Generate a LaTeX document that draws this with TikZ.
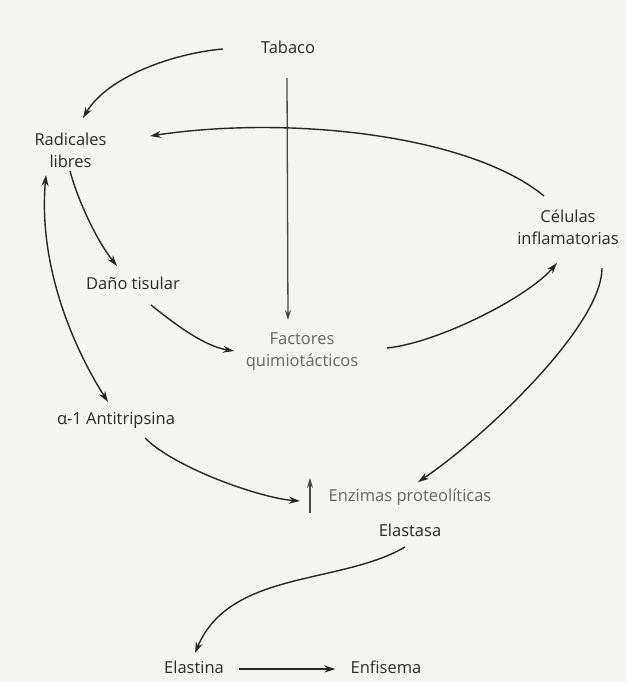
\documentclass[tikz,border=0pt]{standalone}
\usepackage{fontspec}
\setmainfont{Open Sans}
\usetikzlibrary{arrows.meta,calc}
\definecolor{paper}{HTML}{F4F4F1}
\definecolor{ink}{HTML}{2A2A2A}
\definecolor{lightink}{HTML}{666666}
\definecolor{lineink}{HTML}{262626}
\tikzset{
  lbl/.style={inner sep=0pt, text=ink, font=\fontsize{16.5}{22}\selectfont, align=center},
  lbllight/.style={lbl, text=lightink},
  conn/.style={draw=lineink, line width=1.4pt, -{Stealth[length=11pt,width=7pt]}},
  bconn/.style={draw=lineink, line width=1.4pt, {Stealth[length=11pt,width=7pt]}-{Stealth[length=11pt,width=7pt]}},
  vconn/.style={draw=lineink!85, line width=1.3pt, -{Stealth[length=10pt,width=6pt]}}
}
\begin{document}
\begin{tikzpicture}[x=1pt,y=-1pt]
\fill[paper] (0,0) rectangle (626,682);
\useasboundingbox (0,0) rectangle (626,682);

\node[lbl] (tab) at (288,47) {Tabaco};
\node[lbl] (rad) at (70.5,150) {Radicales\\libres};
\node[lbl] (dano) at (133,283) {Daño tisular};
\node[lbllight] (fact) at (302,352) {Factores\\quimiotácticos};
\node[lbl] (cel) at (568,227) {Células\\inflamatorias};
\node[lbl] (alfa) at (116,420) {α-1 Antitripsina};
\node[lbllight] (enz) at (410,497) {Enzimas proteolíticas};
\node[lbl] (ela) at (410,530) {Elastasa};
\node[lbl] (elna) at (194,667) {Elastina};
\node[lbl] (enf) at (386,667) {Enfisema};

% Tabaco -> Radicales libres
\draw[conn] ($(tab)+(-65,2)$) .. controls +(-48,4) and +(25,-42) .. ($(rad)+(12.5,-32)$);
% Tabaco -> Factores
\draw[vconn] ($(tab)+(-1,31)$) -- ($(fact)+(-14,-32)$);
% Celulas -> Radicales
\draw[conn] ($(cel)+(-24,-31)$) .. controls +(-74,-61) and +(140,-21) .. ($(rad)+(79.5,-14)$);
% Radicales -> Dano
\draw[conn] ($(rad)+(-0.5,21)$) .. controls +(8,30) and +(-20,-25) .. ($(dano)+(-16,-17)$);
% Radicales <-> alfa-1
\draw[bconn] ($(rad)+(-24.5,25)$) .. controls +(-8,90) and +(-35,-55) .. ($(alfa)+(-8,-18)$);
% Dano -> Factores
\draw[conn] ($(dano)+(18,22)$) .. controls +(25,20) and +(-30,-5) .. ($(fact)+(-68,-1)$);
% Factores -> Celulas
\draw[conn] ($(fact)+(85,-4)$) .. controls +(50,-5) and +(-30,35) .. ($(cel)+(-11,36)$);
% Celulas -> Enzimas
\draw[conn] ($(cel)+(34,41)$) .. controls +(0,60) and +(60,-40) .. ($(enz)+(8,-15)$);
% alfa-1 -> Enzimas
\draw[conn] ($(alfa)+(29,18)$) .. controls +(30,30) and +(-40,-3) .. ($(enz)+(-110,4)$);
% increase arrow
\draw[vconn] ($(enz)+(-100,16)$) -- ($(enz)+(-100,-19)$);
% Elastasa -> Elastina
\draw[conn] ($(ela)+(-5,17)$) .. controls +(-65,38) and +(35,-83) .. ($(elna)+(1,-14)$);
% Elastina -> Enfisema
\draw[conn] ($(elna.east)+(15,2)$) -- ($(enf.west)+(-15,2)$);
\end{tikzpicture}
\end{document}
